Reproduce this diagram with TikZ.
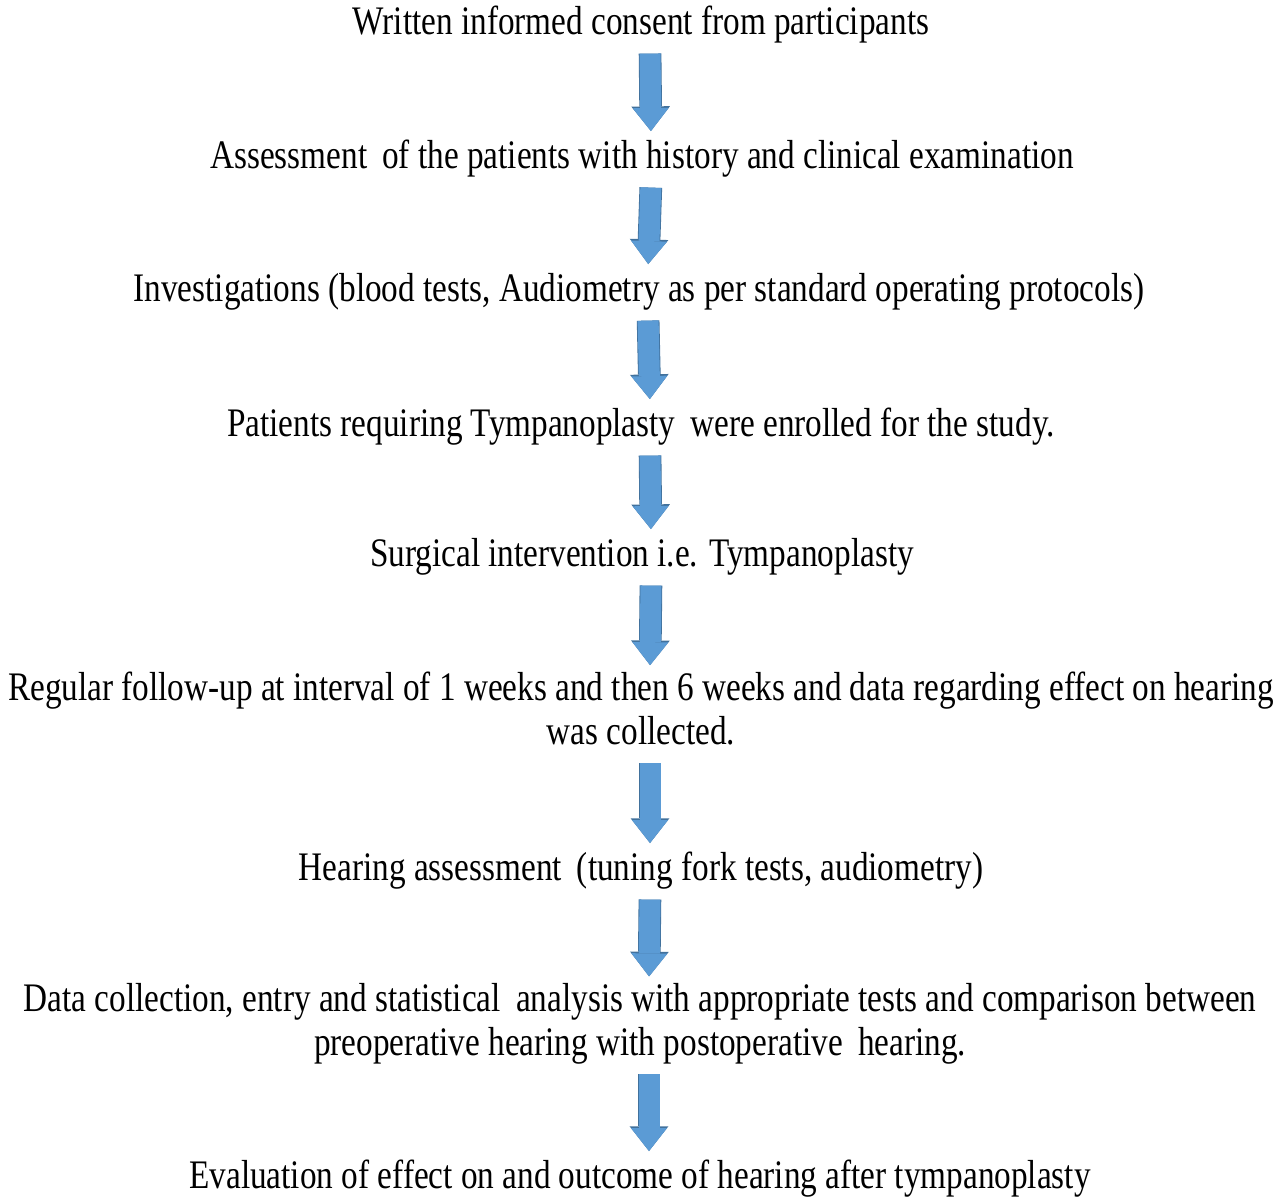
\documentclass[tikz,border=0pt]{standalone}
\usepackage{fontspec}
\setmainfont{Liberation Serif}[FakeStretch=0.82]
\usetikzlibrary{arrows.meta,positioning}
\definecolor{arrowblue}{HTML}{5B9BD5}
\definecolor{arrowedge}{HTML}{41719C}

\begin{document}
\begin{tikzpicture}[x=0.75pt,y=-0.75pt,
    stage/.style={font=\fontsize{30.4}{33}\selectfont, align=center, inner sep=0pt,
      execute at begin node=\strut, execute at end node=\strut},
    flow/.style={line width=15.75pt, arrowblue,
      -{Triangle[width=27pt,length=17.25pt,line width=0pt]},
      shorten <=4pt, shorten >=5pt,
      preaction={draw=arrowedge, line width=17pt,
        -{Triangle[width=29pt,length=18.5pt,line width=0pt]}}}]
  \useasboundingbox (0,0) rectangle (1283,1201);

  % Steps of the study
  \node[stage] (consent) at (641,26) {Written informed consent from participants};
  \node[stage] (assess) at (642,160) {Assessment\, of the patients with history and clinical examination};
  \node[stage] (invest) at (639,293) {Investigations (blood tests, Audiometry as per standard operating protocols)};
  \node[stage] (enrol) at (641,428) {Patients requiring Tympanoplasty\, were enrolled for the study.};
  \node[stage] (surgery) at (642,558) {Surgical intervention i.e. Tympanoplasty};
  \node[stage] (follow) at (641,715) {Regular follow-up at interval of 1 weeks and then 6 weeks and data regarding effect on hearing\\was collected.};
  \node[stage] (hearing) at (641,872) {Hearing assessment\, (tuning fork tests, audiometry)};
  \node[stage] (data) at (640,1026) {Data collection, entry and statistical\, analysis with appropriate tests and comparison between\\preoperative hearing with postoperative\, hearing.};
  \node[stage] (outcome) at (640,1180) {Evaluation of effect on and outcome of hearing after tympanoplasty};

  % Block arrows, a little right of the text centre
  \foreach \from/\to in {consent/assess, assess/invest, invest/enrol, enrol/surgery,
      surgery/follow, follow/hearing, hearing/data, data/outcome}
    \draw[flow] ([xshift=6.75pt]\from.south) -- ([xshift=6.75pt]\to.north);
\end{tikzpicture}
\end{document}
